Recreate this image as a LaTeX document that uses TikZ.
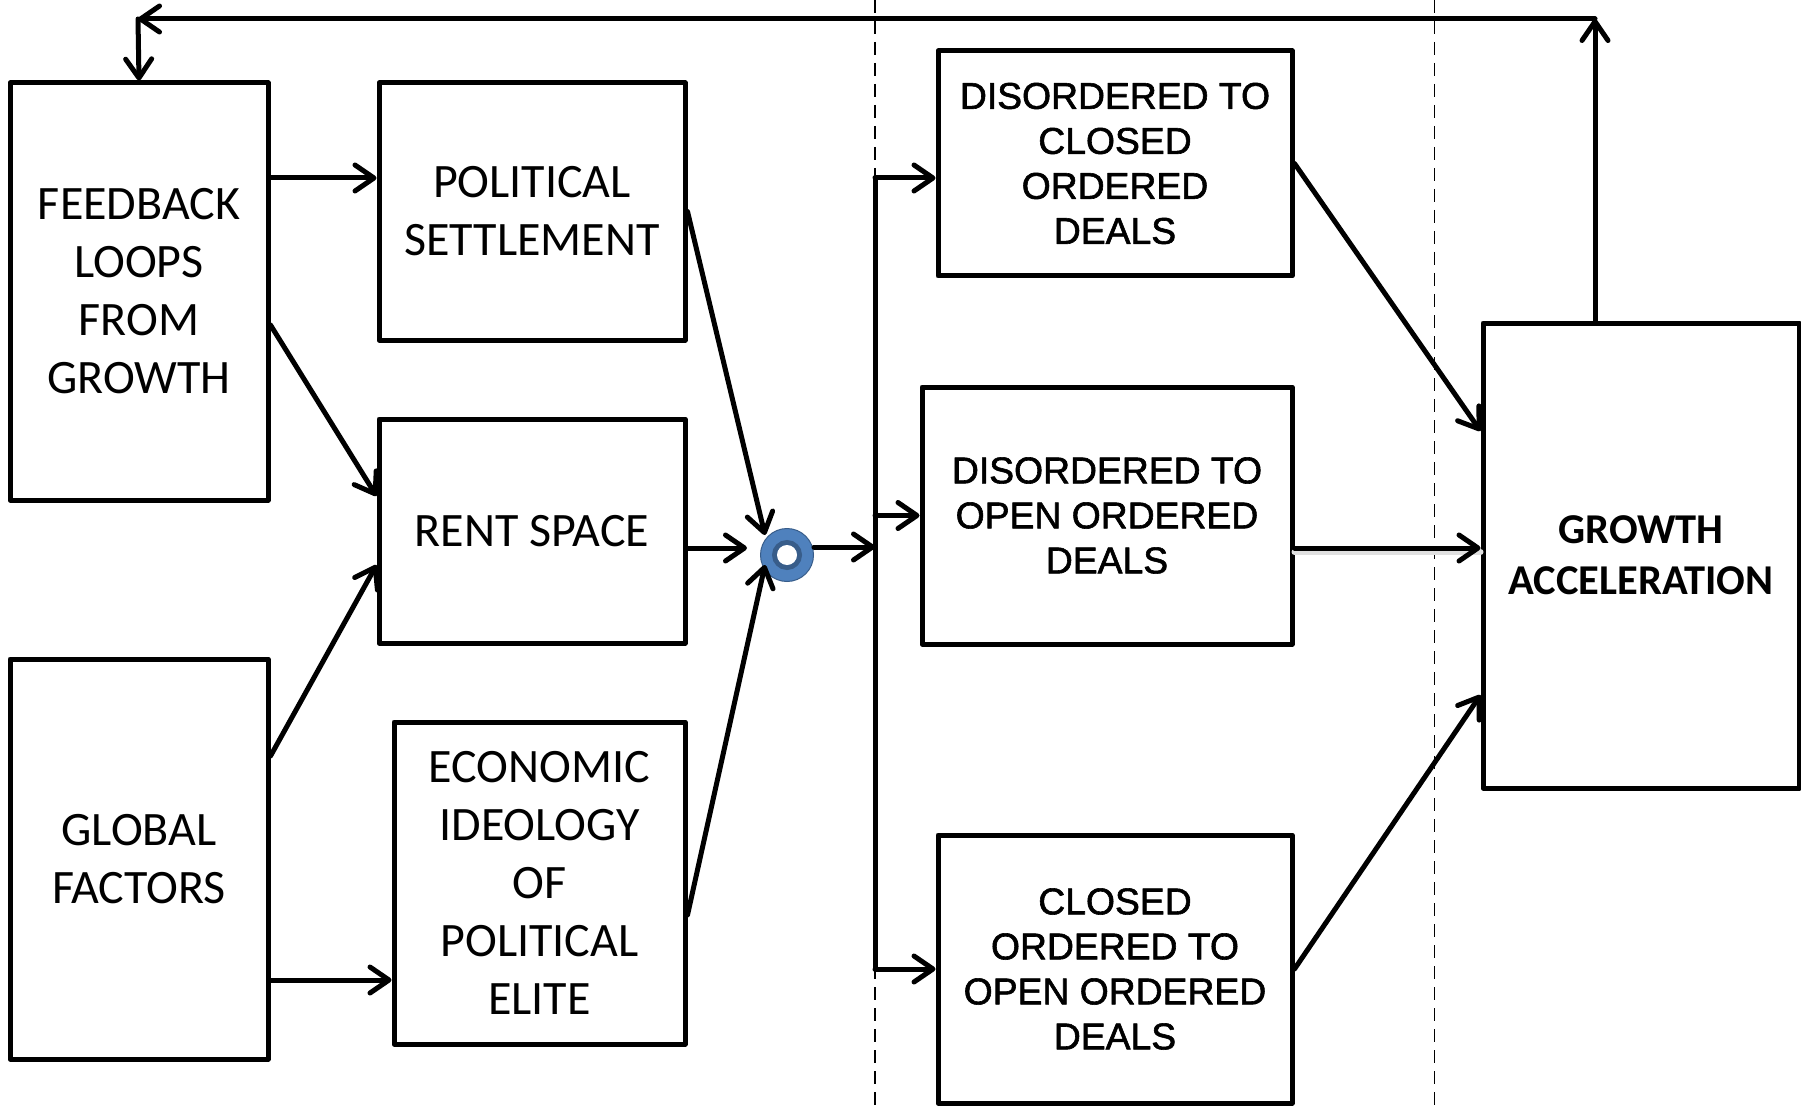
\documentclass[tikz,border=0pt]{standalone}
\usepackage{fontspec}
\newfontfamily\calfont{Carlito}
\newfontfamily\arifont[FakeBold=1.6]{Liberation Sans}
\usetikzlibrary{arrows.meta}
\definecolor{ringlight}{HTML}{4F81BD}
\definecolor{ringdark}{HTML}{385D8A}
\tikzset{
  box/.style={draw, line width=5pt, rectangle, inner sep=0pt, align=center, line join=round},
  calbox/.style={box, font=\calfont\fontsize{48}{58}\selectfont},
  aribox/.style={box, font=\arifont\fontsize{37.3}{45}\selectfont},
  gabox/.style={box, font=\calfont\bfseries\fontsize{42.5}{51}\selectfont},
  conn/.style={line width=5pt, line cap=round, line join=round,
    -{Straight Barb[length=19pt,width=26pt,line width=5pt,round]}},
  plain/.style={line width=5pt, line cap=round, line join=round},
  divider/.style={line width=1.6pt, dash pattern=on 13pt off 8pt}
}
\begin{document}
\begin{tikzpicture}[x=1pt,y=-1pt]
\useasboundingbox (0,0) rectangle (1801,1107);
% dividers
\draw[divider] (875,0) -- (875,1107);
\draw[divider] (1434.5,0) -- (1434.5,1107);
% boxes
\node[calbox, minimum width=258pt, minimum height=417pt] (fb) at (139,291.5) {FEEDBACK\\LOOPS\\FROM\\GROWTH};
\node[calbox, minimum width=306pt, minimum height=257pt] (ps) at (532,211.5) {POLITICAL\\SETTLEMENT};
\node[calbox, minimum width=306pt, minimum height=224pt] (rs) at (532,531) {RENT SPACE};
\node[calbox, minimum width=291pt, minimum height=322pt] (ei) at (539.5,883) {ECONOMIC\\IDEOLOGY\\OF\\POLITICAL\\ELITE};
\node[calbox, minimum width=258pt, minimum height=400pt] (gf) at (139,859) {GLOBAL\\FACTORS};
\node[aribox, minimum width=354pt, minimum height=225pt] (doc) at (1115,163.5) {DISORDERED TO\\CLOSED\\ORDERED\\DEALS};
\node[aribox, minimum width=370pt, minimum height=257pt] (doo) at (1107,515.5) {DISORDERED TO\\OPEN ORDERED\\DEALS};
\node[aribox, minimum width=354pt, minimum height=268pt] (co) at (1115,969) {CLOSED\\ORDERED TO\\OPEN ORDERED\\DEALS};
\node[gabox, minimum width=316pt, minimum height=465pt] (ga) at (1641,555.5) {GROWTH\\ACCELERATION};
% junction circle
\node[circle, fill=ringlight, draw=ringdark, line width=1pt, minimum size=53pt, inner sep=0pt] (cc) at (787,555) {};
\draw[ringdark, line width=5pt] (cc.center) circle (12.5pt);
\fill[white] (cc.center) circle (10pt);
% bus
\coordinate (bt) at (875,178);
\coordinate (bo) at (875,515.5);
\coordinate (bb) at (875,969);
\coordinate (bm) at (875,547);
\draw[plain] (bt) -- (bb);
% feedback loop top
\coordinate (tr) at (1595,19);
\coordinate (tl) at (138,19);
\draw[conn] ([xshift=-46pt]ga.north) -- (tr);
\draw[conn] (tr) -- (tl);
\draw[conn] (tl) -- (fb.north);
% left arrows
\draw[conn] ([yshift=113.5pt]fb.east) -- ([yshift=33.5pt]ps.west);
\draw[conn] ([yshift=-33.5pt]fb.east) -- ([yshift=35pt]rs.west);
\draw[conn] ([yshift=103pt]gf.east) -- ([yshift=-34pt]rs.west);
\draw[conn] ([yshift=-121pt]gf.east) -- ([yshift=-97pt]ei.west);
% into junction
\draw[conn] (ps.east) -- ([xshift=-22pt,yshift=20pt]cc.center);
\draw[conn] ([yshift=-17pt]rs.east) -- ([xshift=-40pt,yshift=7pt]cc.center);
\draw[conn] ([yshift=-32pt]ei.east) -- ([xshift=-22pt,yshift=-10pt]cc.center);
\draw[conn] ([yshift=8pt]cc.east) -- (bm);
% bus to deals
\draw[conn] (bt) -- ([yshift=-14.5pt]doc.west);
\draw[conn] (bo) -- (doo.west);
\draw[conn] (bb) -- (co.west);
% deals to growth
\draw[conn] (doc.east) -- ([yshift=124.5pt]ga.west);
\draw[line width=6pt, black!12, line cap=round] ([yshift=-36.5pt]doo.east) -- ([yshift=3.5pt]ga.west);
\draw[conn] ([yshift=-32.5pt]doo.east) -- ([yshift=7.5pt]ga.west);
\draw[conn] (co.east) -- ([yshift=-139.5pt]ga.west);
\end{tikzpicture}
\end{document}
